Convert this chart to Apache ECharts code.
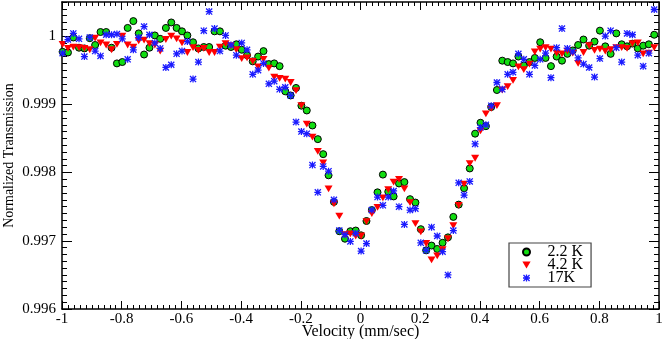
<!DOCTYPE html>
<html>
<head>
<meta charset="utf-8">
<script src="https://cdn.jsdelivr.net/npm/echarts@6/dist/echarts.min.js"></script>
<style>
	html, body {margin: 0; padding: 0; background: #fff;}
	#chart {width: 664px; height: 339px;}
</style>
</head>
<body>
<div id="chart"></div>
<script>
// velocity channels (mm/sec), shared by all three runs
let velocity = [
	-0.998, -0.980, -0.962, -0.943, -0.925, -0.907, -0.889, -0.871, -0.852, -0.834,
	-0.816, -0.798, -0.780, -0.761, -0.743, -0.725, -0.707, -0.689, -0.671, -0.652,
	-0.634, -0.616, -0.598, -0.580, -0.561, -0.543, -0.525, -0.507, -0.489, -0.471,
	-0.452, -0.434, -0.416, -0.398, -0.380, -0.361, -0.343, -0.325, -0.307, -0.289,
	-0.271, -0.252, -0.234, -0.216, -0.198, -0.180, -0.161, -0.143, -0.125, -0.107,
	-0.089, -0.071, -0.052, -0.034, -0.016, 0.002, 0.020, 0.038, 0.057, 0.075,
	0.093, 0.111, 0.129, 0.147, 0.166, 0.184, 0.202, 0.220, 0.238, 0.257,
	0.275, 0.293, 0.311, 0.329, 0.347, 0.366, 0.384, 0.402, 0.420, 0.438,
	0.457, 0.475, 0.493, 0.511, 0.529, 0.547, 0.566, 0.584, 0.602, 0.620,
	0.638, 0.657, 0.675, 0.693, 0.711, 0.729, 0.747, 0.766, 0.784, 0.802,
	0.820, 0.838, 0.857, 0.875, 0.893, 0.911, 0.929, 0.947, 0.966, 0.984,
];

let t22 = [
	0.99977, 0.99976, 0.99998, 0.99983, 0.99982, 0.99997, 0.99987, 1.00006, 1.00006, 0.99983,
	0.99960, 0.99962, 1.00012, 1.00022, 1.00004, 0.99973, 0.99983, 1.00001, 0.99996, 1.00012,
	1.00020, 1.00012, 1.00007, 1.00001, 0.99991, 0.99982, 0.99984, 0.99984, 1.00007, 1.00007,
	0.99986, 0.99984, 0.99988, 0.99980, 0.99972, 0.99963, 0.99970, 0.99978, 0.99959, 0.99960,
	0.99956, 0.99919, 0.99913, 0.99924, 0.99898, 0.99891, 0.99869, 0.99849, 0.99827, 0.99796,
	0.99757, 0.99714, 0.99703, 0.99714, 0.99715, 0.99708, 0.99729, 0.99745, 0.99771, 0.99797,
	0.99772, 0.99765, 0.99784, 0.99786, 0.99761, 0.99756, 0.99717, 0.99686, 0.99693, 0.99688,
	0.99697, 0.99705, 0.99735, 0.99753, 0.99777, 0.99806, 0.99857, 0.99873, 0.99868, 0.99896,
	0.99921, 0.99964, 0.99962, 0.99960, 0.99970, 0.99957, 0.99962, 0.99968, 0.99991, 0.99968,
	0.99956, 0.99970, 0.99964, 0.99974, 0.99979, 0.99987, 0.99995, 0.99986, 0.99992, 1.00008,
	0.99985, 0.99974, 1.00004, 0.99988, 0.99985, 0.99989, 0.99982, 0.99986, 0.99988, 1.00002,
];

let t42 = [
	0.99988, 0.99982, 0.99984, 0.99983, 0.99982, 0.99980, 0.99997, 0.99990, 0.99987, 0.99980,
	0.99988, 1.00000, 0.99987, 0.99984, 0.99993, 0.99994, 0.99989, 0.99987, 0.99978, 0.99995,
	1.00000, 0.99996, 0.99990, 0.99976, 0.99983, 0.99979, 0.99982, 0.99976, 0.99976, 0.99984,
	0.99989, 0.99986, 0.99980, 0.99967, 0.99968, 0.99963, 0.99955, 0.99966, 0.99953, 0.99940,
	0.99938, 0.99937, 0.99932, 0.99920, 0.99898, 0.99871, 0.99852, 0.99831, 0.99814, 0.99776,
	0.99754, 0.99736, 0.99709, 0.99710, 0.99707, 0.99707, 0.99728, 0.99740, 0.99749, 0.99763,
	0.99775, 0.99786, 0.99790, 0.99776, 0.99756, 0.99725, 0.99713, 0.99696, 0.99672, 0.99678,
	0.99687, 0.99703, 0.99722, 0.99752, 0.99783, 0.99813, 0.99821, 0.99861, 0.99886, 0.99894,
	0.99898, 0.99921, 0.99926, 0.99935, 0.99955, 0.99951, 0.99959, 0.99977, 0.99981, 0.99983,
	0.99981, 0.99975, 0.99974, 0.99978, 0.99975, 0.99960, 0.99976, 0.99986, 0.99979, 0.99981,
	0.99978, 0.99980, 0.99983, 0.99983, 0.99982, 0.99989, 0.99990, 0.99974, 0.99975, 0.99983,
];

let t17 = [
	0.99975, 0.99995, 1.00004, 0.99996, 0.99970, 0.99998, 0.99978, 0.99971, 1.00002, 1.00002,
	1.00003, 0.99996, 0.99966, 0.99980, 0.99998, 1.00014, 1.00002, 0.99990, 0.99982, 0.99954,
	0.99958, 0.99974, 0.99978, 0.99992, 0.99937, 0.99962, 1.00008, 1.00036, 1.00011, 0.99978,
	1.00001, 0.99987, 0.99972, 0.99990, 0.99980, 0.99944, 0.99950, 0.99960, 0.99930, 0.99934,
	0.99922, 0.99925, 0.99913, 0.99874, 0.99860, 0.99857, 0.99811, 0.99771, 0.99809, 0.99802,
	0.99760, 0.99715, 0.99709, 0.99699, 0.99711, 0.99685, 0.99696, 0.99745, 0.99764, 0.99752,
	0.99764, 0.99773, 0.99750, 0.99724, 0.99745, 0.99747, 0.99697, 0.99686, 0.99720, 0.99707,
	0.99684, 0.99650, 0.99715, 0.99785, 0.99767, 0.99787, 0.99842, 0.99866, 0.99870, 0.99898,
	0.99932, 0.99922, 0.99944, 0.99947, 0.99974, 0.99966, 0.99944, 0.99957, 0.99966, 0.99975,
	0.99939, 0.99983, 1.00011, 0.99982, 0.99977, 0.99968, 0.99959, 0.99954, 0.99940, 0.99967,
	1.00000, 1.00008, 0.99983, 0.99962, 1.00004, 1.00002, 0.99972, 0.99956, 0.99975, 1.00039,
];

let seriesNames = ['2.2 K', '4.2 K', '17K'];

let font = 'Liberation Serif';
// down-pointing triangle and an asterisk (vertical, horizontal, two diagonal bars)
let triangleDown = 'path://M0 0H10L5 8.5Z';
let asterisk = 'path://M4.1 0H5.9V10H4.1Z M0 4.1H10V5.9H0Z M0 1.3L1.3 0L10 8.7L8.7 10Z M8.7 0L10 1.3L1.3 10L0 8.7Z';

let pairs = (ys) => velocity.map((v, i) => [v, ys[i]]);

let makeAxis = (dim, position, interval, tickLength, withLine) => ({
	type: 'value',
	position,
	min: dim === 'x' ? -1 : 0.996,
	max: dim === 'x' ? 1 : 1.0005,
	interval,
	axisLine: {show: withLine, onZero: false, lineStyle: {color: '#000', width: 1.5}},
	axisTick: {show: true, inside: true, length: tickLength, lineStyle: {color: '#000', width: 1}},
	axisLabel: {show: false},
	splitLine: {show: false},
});

let xMain = makeAxis('x', 'bottom', 0.2, 8, true);
xMain.axisLabel = {show: true, margin: 3, fontFamily: font, fontSize: 15, color: '#000'};
xMain.name = 'Velocity (mm/sec)';
xMain.nameLocation = 'middle';
xMain.nameGap = 15;
xMain.nameMoveOverlap = false;
xMain.nameTextStyle = {fontFamily: font, fontSize: 16, color: '#000'};

let yMain = makeAxis('y', 'left', 0.001, 10, true);
yMain.axisLabel = {show: true, margin: 6, showMaxLabel: false, fontFamily: font, fontSize: 15, color: '#000'};
yMain.name = 'Normalized Transmission';
yMain.nameLocation = 'middle';
yMain.nameGap = 46;
yMain.nameMoveOverlap = false;
yMain.nameTextStyle = {fontFamily: font, fontSize: 14, color: '#000'};

let chart = echarts.init(document.getElementById('chart'));
chart.setOption({
	animation: false,
	backgroundColor: '#fff',
	grid: {left: 62, right: 5, top: 2, bottom: 30, outerBoundsMode: 'none', containLabel: false},
	xAxis: [
		xMain,
		makeAxis('x', 'bottom', 0.02, 4, false),
		makeAxis('x', 'top', 0.2, 8, true),
		makeAxis('x', 'top', 0.02, 4, false),
	],
	yAxis: [
		yMain,
		makeAxis('y', 'left', 0.0001, 5, false),
		makeAxis('y', 'right', 0.001, 10, true),
		makeAxis('y', 'right', 0.0001, 5, false),
	],
	legend: {
		orient: 'vertical',
		left: 509,
		top: 243,
		padding: [1, 8, 1, 13],
		itemGap: -3,
		itemWidth: 32,
		itemHeight: 7,
		symbolKeepAspect: true,
		borderColor: '#444',
		borderWidth: 1.2,
		backgroundColor: '#fff',
		textStyle: {fontFamily: font, fontSize: 16, color: '#000'},
		data: seriesNames,
	},
	series: [
		{
			name: seriesNames[0],
			type: 'scatter',
			symbol: 'circle',
			symbolSize: 7,
			itemStyle: {color: '#11dd11', borderColor: '#000', borderWidth: 1, opacity: 1},
			data: pairs(t22),
		},
		{
			name: seriesNames[1],
			type: 'scatter',
			symbol: triangleDown,
			symbolKeepAspect: true,
			symbolSize: 8,
			itemStyle: {color: '#ff0000', opacity: 1},
			data: pairs(t42),
		},
		{
			name: seriesNames[2],
			type: 'scatter',
			symbol: asterisk,
			symbolKeepAspect: true,
			symbolSize: 7,
			itemStyle: {color: '#1a1aff', opacity: 1},
			data: pairs(t17),
		},
	],
});
</script>
</body>
</html>
